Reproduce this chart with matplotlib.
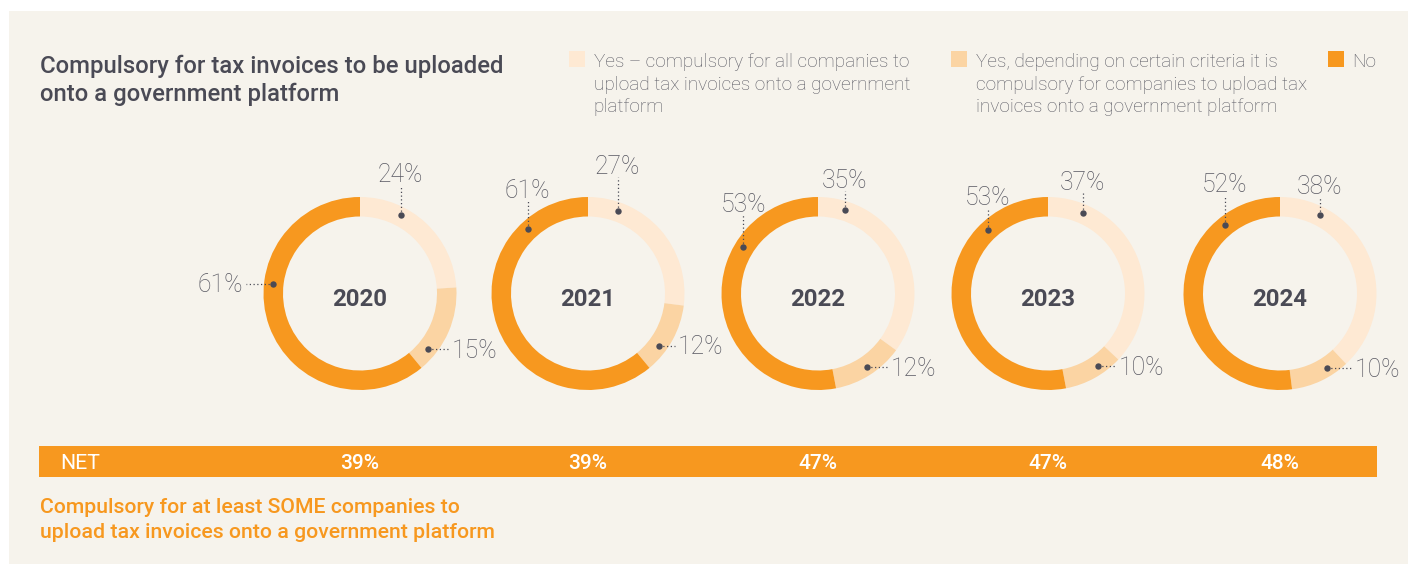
import matplotlib
matplotlib.use("Agg")
import matplotlib.pyplot as plt
from matplotlib.patches import Rectangle
import numpy as np

plt.rcParams["font.family"] = ["Roboto", "DejaVu Sans"]

# ---- data ----
years = ["2020", "2021", "2022", "2023", "2024"]
yes_all = [24, 27, 35, 37, 38]
yes_criteria = [15, 12, 12, 10, 10]
no = [61, 61, 53, 53, 52]
net = [39, 39, 47, 47, 48]  # yes_all + yes_criteria

series_labels = [
    ["Yes \u2013 compulsory for all companies to",
     "upload tax invoices onto a government",
     "platform"],
    ["Yes, depending on certain criteria it is",
     "compulsory for companies to upload tax",
     "invoices onto a government platform"],
    ["No"],
]
title_lines = ["Compulsory for tax invoices to be uploaded",
               "onto a government platform"]
net_label = "NET"
footer_lines = ["Compulsory for at least SOME companies to",
                "upload tax invoices onto a government platform"]

# ---- style ----
colors = ["#fee9d3", "#fbd4a3", "#f7981f"]
DARK = "#4a4a55"
GREY = "#585862"
PANEL = "#f6f3ec"

W, H = 1415, 566
fig = plt.figure(figsize=(W / 100, H / 100), dpi=100, facecolor="white")
ax = fig.add_axes([0, 0, 1, 1])


def Y(py):
    """Convert a top-down pixel row into the axes' bottom-up coordinate."""
    return H - py


ax.add_patch(Rectangle((9, Y(564)), 1399, 553, facecolor=PANEL,
                       edgecolor="none", zorder=0))

# donut geometry
centers_x = [360, 588, 818, 1048, 1280]
cy = Y(293.5)
R_OUT = 96.5
RING = 19.5
R_DOT = 88

# callout placement for each donut: (angle clockwise from 12 o'clock, side, gap)
callouts = [
    [(27.5, "up", 33), (129.0, "right", 23), (276.5, "left", 30)],
    [(19.7, "up", 37), (126.3, "right", 19), (316.7, "up", 31)],
    [(17.7, "up", 22), (146.3, "right", 24), (301.8, "up", 35)],
    [(23.1, "up", 23), (145.6, "right", 21), (316.6, "up", 25)],
    [(26.7, "up", 21), (147.5, "right", 27), (321.3, "up", 33)],
]

PCT_SIZE = 17.8
CAP = 8.8  # half cap height of the percentage labels, px

for i, yr in enumerate(years):
    cx = centers_x[i]
    vals = [yes_all[i], yes_criteria[i], no[i]]
    ax.pie(vals, colors=colors, startangle=90, counterclock=False,
           radius=R_OUT, center=(cx, cy),
           wedgeprops=dict(width=RING, linewidth=0))
    ax.text(cx, cy - 12.5, yr, ha="center", va="baseline",
            fontsize=17.3, fontweight="bold", color=DARK)

    for v, (ang, side, gap) in zip(vals, callouts[i]):
        t = np.deg2rad(ang)
        dx, dy = cx + R_DOT * np.sin(t), cy + R_DOT * np.cos(t)
        ax.plot([dx], [dy], "o", ms=4.6, color=DARK, mec="none", zorder=5)
        lab = f"{v}%"
        if side == "up":
            ax.plot([dx, dx], [dy, dy + gap - 3], color=DARK, lw=0.9,
                    ls=(0, (1, 2)), zorder=4)
            ax.text(dx, dy + gap, lab, ha="center", va="baseline",
                    fontsize=PCT_SIZE, fontweight="light", color=GREY)
        elif side == "right":
            ax.plot([dx, dx + gap - 3], [dy, dy], color=DARK, lw=0.9,
                    ls=(0, (1, 2)), zorder=4)
            ax.text(dx + gap, dy - CAP, lab, ha="left", va="baseline",
                    fontsize=PCT_SIZE, fontweight="light", color=GREY)
        else:
            ax.plot([dx, dx - gap + 3], [dy, dy], color=DARK, lw=0.9,
                    ls=(0, (1, 2)), zorder=4)
            ax.text(dx - gap, dy - CAP, lab, ha="right", va="baseline",
                    fontsize=PCT_SIZE, fontweight="light", color=GREY)

# title
for k, line in enumerate(title_lines):
    ax.text(40, Y(73 + 27.5 * k), line, ha="left", va="baseline",
            fontsize=17.2, fontweight="medium", color=DARK)

# legend
legend_x = [569, 951, 1328]
for k, lines in enumerate(series_labels):
    x0 = legend_x[k]
    ax.add_patch(Rectangle((x0, Y(67)), 15.5, 16, facecolor=colors[k],
                           edgecolor="none"))
    for j, line in enumerate(lines):
        ax.text(x0 + 24.5, Y(67 + 22.5 * j), line, ha="left", va="baseline",
                fontsize=13.7, fontweight="light", color=GREY)

# NET band
ax.add_patch(Rectangle((39, Y(477)), 1338, 31, facecolor=colors[2],
                       edgecolor="none"))
ax.text(60, Y(469), net_label, ha="left", va="baseline", fontsize=15.3,
        color="white")
for cx, v in zip(centers_x, net):
    ax.text(cx, Y(469), f"{v}%", ha="center", va="baseline", fontsize=15,
            fontweight="medium", color="white")

# footer
for k, line in enumerate(footer_lines):
    ax.text(40, Y(513 + 25.5 * k), line, ha="left", va="baseline",
            fontsize=15.3, fontweight="medium", color=colors[2])

ax.set_xlim(0, W)
ax.set_ylim(0, H)
ax.set_aspect("equal")
ax.axis("off")

fig.savefig("out.png", dpi=100, facecolor="white")
